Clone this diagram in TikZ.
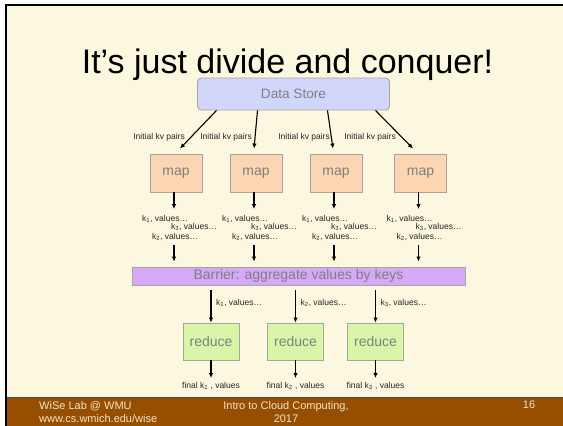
\documentclass[tikz,border=0pt]{standalone}
\usepackage{fontspec}
\setmainfont{Liberation Sans}
\usetikzlibrary{positioning,arrows.meta,calc}
\definecolor{slidebg}{HTML}{FCF7DF}
\definecolor{footbrown}{HTML}{964F00}
\definecolor{foottext}{HTML}{F2E4C6}
\definecolor{storefill}{HTML}{D3D6FB}
\definecolor{mapfill}{HTML}{FCD5B2}
\definecolor{barrierfill}{HTML}{D6A8F8}
\definecolor{reducefill}{HTML}{D8F5A8}
\definecolor{boxline}{HTML}{A5A5A5}
\definecolor{boxtext}{HTML}{808080}

\begin{document}
\begin{tikzpicture}[x=1pt,y=-1pt,
  box/.style={draw=boxline, line width=0.9pt, text=boxtext, font=\fontsize{14}{16}\selectfont, inner sep=0pt},
  mapbox/.style={box, fill=mapfill, minimum width=52pt, minimum height=38pt},
  redbox/.style={box, fill=reducefill, minimum width=56pt, minimum height=37pt},
  tiny/.style={font=\fontsize{8.5}{10}\selectfont, text=black!85, inner sep=0pt},
  foot/.style={font=\fontsize{11}{13}\selectfont, text=foottext, inner sep=0pt},
  arr/.style={-{Latex[length=5pt,width=4.5pt]}, line width=1.1pt}]
\useasboundingbox (0,0) rectangle (563,426);
\fill[white] (0,0) rectangle (563,426);
\fill[slidebg] (6,4.5) rectangle (563,398);
\fill[footbrown] (6,398) rectangle (563,426);
\draw[black!70, line width=0.6pt] (6,397.5) -- (563,397.5);
\draw[line width=2pt] (6,426) -- (6,4.5) -- (563,4.5);

\node[font=\fontsize{34}{40}\selectfont, anchor=base] (title) at (287.5,73) {It’s just divide and conquer!};
\node[box, fill=storefill, rounded corners=4pt, minimum width=192pt, minimum height=32pt, font=\fontsize{13.6}{16}\selectfont] (store) at (293.5,94) {Data Store};

\node[mapbox] (map1) at (176,173) {map};
\node[mapbox] (map2) at (256,173) {map};
\node[mapbox] (map3) at (336,173) {map};
\node[mapbox] (map4) at (420.5,173) {map};

\draw[arr] ([xshift=-77pt]store.south) -- ([xshift=4pt,yshift=5pt]map1.north);
\draw[arr] ([xshift=-36pt]store.south) -- ([xshift=-2pt,yshift=5pt]map2.north);
\draw[arr] ([xshift=34pt]store.south) -- ([xshift=-3pt,yshift=5pt]map3.north);
\draw[arr] ([xshift=82pt]store.south) -- ([xshift=-7.5pt,yshift=5pt]map4.north);
\node[tiny, anchor=east] (kv1) at (185,137) {Initial kv pairs};
\node[tiny, anchor=east] (kv2) at (252,137) {Initial kv pairs};
\node[tiny, anchor=east] (kv3) at (330,137) {Initial kv pairs};
\node[tiny, anchor=east] (kv4) at (396,137) {Initial kv pairs};

\node[box, fill=barrierfill, minimum width=333pt, minimum height=18pt] (barrier) at (298.5,276) {Barrier: aggregate values by keys};

\foreach \i/\cx in {1/176,2/256,3/336,4/420.5}{
  \node[tiny, anchor=west] (kone\i) at (\cx-34,219) {k\textsubscript{1}, values…};
  \node[tiny, anchor=west] (kthree\i) at (\cx-5,227) {k\textsubscript{3}, values…};
  \node[tiny, anchor=west] (ktwo\i) at (\cx-24,237) {k\textsubscript{2}, values…};
  \draw[arr] ([xshift=-2pt]map\i.south) -- ([xshift=-2pt,yshift=6pt]map\i.south |- kone\i.north);
  \draw[arr] ([xshift=-2pt,yshift=-4pt]map\i.south |- ktwo\i.south) -- ([xshift=-2pt,yshift=5pt]map\i.south |- barrier.north);
}

\foreach \i/\cx in {1/211,2/295.5,3/375.5}{
  \node[redbox] (red\i) at (\cx,341.5) {reduce};
  \node[tiny, anchor=west] (kred\i) at (\cx+5,303) {k\textsubscript{\i}, values…};
  \node[tiny] (fin\i) at (\cx,386) {final k\textsubscript{\i} , values};
  \draw[arr] ([yshift=-5pt]red\i.north |- barrier.south) -- (red\i.north);
  \draw[arr] (red\i.south) -- ([yshift=4pt]red\i.south |- fin\i.north);
}

\node[foot, align=left, anchor=north west] (lab) at (39,401) {WiSe Lab @ WMU\\www.cs.wmich.edu/wise};
\node[foot, align=center, anchor=north] (course) at (286,401) {Intro to Cloud Computing,\\2017};
\node[foot, anchor=north] (pagenum) at (529,401) {16};
\end{tikzpicture}
\end{document}
